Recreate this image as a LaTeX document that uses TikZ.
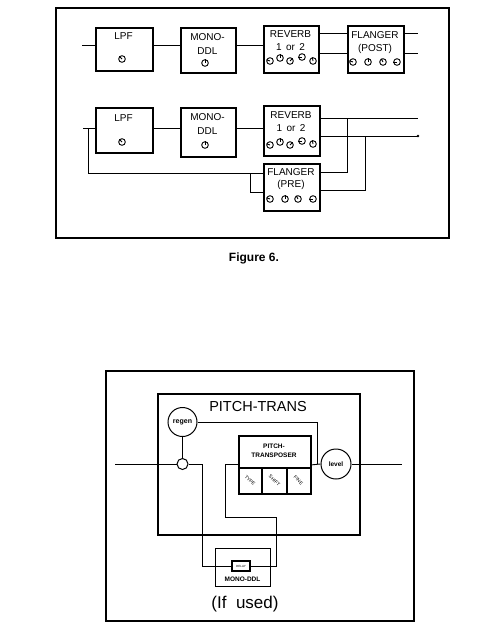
\documentclass[tikz,border=0pt]{standalone}
\usepackage{fontspec}
\setmainfont{Liberation Sans}
\newcommand\knobat[3]{\node[knob] (#1) at (#2) {}; \draw[wire] (#1.center) -- (#1.#3);}
\tikzset{
  frame/.style={draw, line width=2.2pt, rectangle, inner sep=0, anchor=north west},
  box/.style={draw, line width=1.7pt, rectangle, inner sep=0, anchor=north west},
  wire/.style={line width=0.9pt},
  lbl/.style={font=\fontsize{10}{10}\selectfont, inner sep=0},
  cell/.style={font=\fontsize{4.8}{4.8}\selectfont, inner sep=0, rotate=-45},
  knob/.style={draw, circle, line width=0.9pt, minimum size=6.6pt, inner sep=0},
  ring/.style={draw, circle, line width=1pt, inner sep=0},
}
\begin{document}
\begin{tikzpicture}[x=1pt,y=-1pt]
\useasboundingbox (0,0) rectangle (495,629);
% ---------- Figure 6 ----------
\node[frame, minimum width=393pt, minimum height=230pt] (fr1) at (55,7) {};
% row 1
\node[box, minimum width=57pt, minimum height=43pt] (lpf1) at (95,27) {};
\node[box, minimum width=55pt, minimum height=45pt] (ddl1) at (180,27) {};
\node[box, minimum width=55pt, minimum height=47pt] (rev1) at (263,25) {};
\node[box, minimum width=56pt, minimum height=47pt] (flp1) at (347,25) {};
\node[lbl] (t1) at (123.5,36.5) {LPF};
\knobat{k1}{122,59}{135}
\node[lbl] (t2) at (207.5,37) {MONO-};
\node[lbl] (t3) at (207.5,51) {DDL};
\knobat{k2}{205,63}{90}
\node[lbl] (t4) at (290.5,34) {REVERB};
\node[lbl] (t5) at (290.5,47) {1\, or\, 2};
\knobat{k3}{270,61}{160}
\knobat{k4}{280,58}{90}
\knobat{k5}{290,61}{45}
\knobat{k6}{302,57}{180}
\knobat{k7}{313,61}{100}
\node[lbl] (t6) at (375,35) {FLANGER};
\node[lbl] (t7) at (375,49) {(POST)};
\knobat{k8}{353,62}{160}
\knobat{k9}{368,62}{90}
\knobat{k10}{383,62}{120}
\knobat{k11}{397,62}{180}
\coordinate (in1) at (82,45);
\coordinate (a1) at (418,33);
\coordinate (b1) at (418,53);
\draw[wire] (in1) -- (in1 -| lpf1.west);
\draw[wire] (in1 -| lpf1.east) -- (in1 -| ddl1.west);
\draw[wire] (in1 -| ddl1.east) -- (in1 -| rev1.west);
\draw[wire] (a1 -| rev1.east) -- (a1 -| flp1.west);
\draw[wire] (b1 -| rev1.east) -- (b1 -| flp1.west);
\draw[wire] (a1 -| flp1.east) -- (a1);
\draw[wire] (b1 -| flp1.east) -- (b1);
% row 2
\node[box, minimum width=57pt, minimum height=45pt] (lpf2) at (95,107) {};
\node[box, minimum width=55pt, minimum height=49pt] (ddl2) at (180,107) {};
\node[box, minimum width=56pt, minimum height=50pt] (rev2) at (263,105) {};
\node[box, minimum width=56pt, minimum height=47pt] (flr) at (263,163) {};
\node[lbl] (u1) at (123.5,118) {LPF};
\knobat{m1}{122,142}{135}
\node[lbl] (u2) at (207.5,117) {MONO-};
\node[lbl] (u3) at (207.5,131) {DDL};
\knobat{m2}{205,145}{90}
\node[lbl] (u4) at (291,115) {REVERB};
\node[lbl] (u5) at (291,128) {1\, or\, 2};
\knobat{m3}{270,145}{160}
\knobat{m4}{280,142}{90}
\knobat{m5}{290,145}{45}
\knobat{m6}{302,141}{180}
\knobat{m7}{313,144}{100}
\node[lbl] (u6) at (291,172) {FLANGER};
\node[lbl] (u7) at (291,185) {(PRE)};
\knobat{m8}{270,199}{160}
\knobat{m9}{285,199}{90}
\knobat{m10}{298,199}{120}
\knobat{m11}{313,199}{180}
\coordinate (in2) at (83,128);
\coordinate (j2) at (88,128);
\coordinate (j2b) at (88,173);
\coordinate (l2) at (250,173);
\coordinate (l2b) at (250,192);
\coordinate (a2) at (418,118);
\coordinate (b2) at (418,136);
\coordinate (c2) at (347,172);
\coordinate (d2) at (365,190);
\draw[wire] (in2) -- (in2 -| lpf2.west);
\draw[wire] (j2) -- (j2b) -- (j2b -| flr.west);
\draw[wire] (l2) -- (l2b) -- (l2b -| flr.west);
\draw[wire] (in2 -| lpf2.east) -- (in2 -| ddl2.west);
\draw[wire] (in2 -| ddl2.east) -- (in2 -| rev2.west);
\draw[wire] (a2 -| rev2.east) -- (a2);
\draw[wire] (b2 -| rev2.east) -- (b2);
\fill (b2) circle (1.3);
\draw[wire] (c2 -| flr.east) -- (c2) -- (c2 |- a2);
\draw[wire] (d2 -| flr.east) -- (d2) -- (d2 |- b2);
\node[font=\bfseries\fontsize{12}{12}\selectfont, inner sep=0] (cap) at (254,258) {Figure 6.};
% ---------- PITCH-TRANS ----------
\node[draw, line width=1.6pt, rectangle, inner sep=0, anchor=north west, minimum width=308pt, minimum height=250pt] (fr2) at (105,370) {};
\node[draw, line width=2.4pt, rectangle, inner sep=0, anchor=north west, minimum width=202pt, minimum height=141pt] (pts) at (157,393) {};
\node[font=\fontsize{14.5}{14.5}\selectfont, inner sep=0] (title) at (258,407) {PITCH-TRANS};
\node[ring, minimum size=29pt, font=\bfseries\fontsize{7}{7}\selectfont] (regen) at (182.5,422) {regen};
\node[ring, minimum size=11pt] (mix) at (182.5,464) {};
\node[ring, minimum size=30pt, font=\bfseries\fontsize{6.5}{6.5}\selectfont] (level) at (336,464) {level};
\node[box, minimum width=72pt, minimum height=58pt, line width=1.7pt] (ptx) at (238,435) {};
\node[font=\bfseries\fontsize{6.5}{6.5}\selectfont, inner sep=0] (ptt1) at (274,446) {PITCH-};
\node[font=\bfseries\fontsize{6.5}{6.5}\selectfont, inner sep=0] (ptt2) at (274,455.5) {TRANSPOSER};
\coordinate (dv) at (238,468);
\coordinate (c1) at (262,468);
\coordinate (c3) at (287,468);
\draw[line width=1.5pt] (dv) -- (dv -| ptx.east);
\draw[line width=1.5pt] (c1) -- (c1 |- ptx.south);
\draw[line width=1.5pt] (c3) -- (c3 |- ptx.south);
\node[cell] (ty) at (250,480.5) {TYPE};
\node[cell] (sh) at (274.5,480.5) {SHIFT};
\node[cell] (fi) at (298.5,480.5) {FINE};
\node[draw, line width=1.4pt, rectangle, inner sep=0, anchor=north west, minimum width=55pt, minimum height=38pt] (mddl) at (215,548) {};
\node[draw, line width=1.2pt, rectangle, inner sep=0, minimum width=18pt, minimum height=10pt, font=\fontsize{3}{3}\selectfont] (dly) at (241,566) {DELAY};
\node[font=\bfseries\fontsize{6.5}{6.5}\selectfont, inner sep=0] (mt) at (242.5,579) {MONO-DDL};
\node[font=\fontsize{17}{17}\selectfont, inner sep=0] (used) at (245,604) {(If\ \ used)};
\coordinate (inb) at (115,464);
\coordinate (p1) at (202,464);
\coordinate (p2) at (202,566);
\coordinate (q1) at (276,566);
\coordinate (q2) at (276,517);
\coordinate (q3) at (225,517);
\coordinate (q4) at (225,464);
\coordinate (r1) at (317,422);
\coordinate (outb) at (402,464);
\draw[wire] (inb) -- (mix.west);
\draw[wire] (regen.south) -- (mix.north);
\draw[wire] (mix.east) -- (p1) -- (p2) -- (dly.west);
\draw[wire] (dly.east) -- (q1) -- (q2) -- (q3) -- (q4) -- (q4 -| ptx.west);
\draw[wire] (regen.east) -- (r1) -- (r1 |- level.west);
\draw[wire] (ptx.east) -- (level.west);
\draw[wire] (level.east) -- (outb);
\end{tikzpicture}
\end{document}
